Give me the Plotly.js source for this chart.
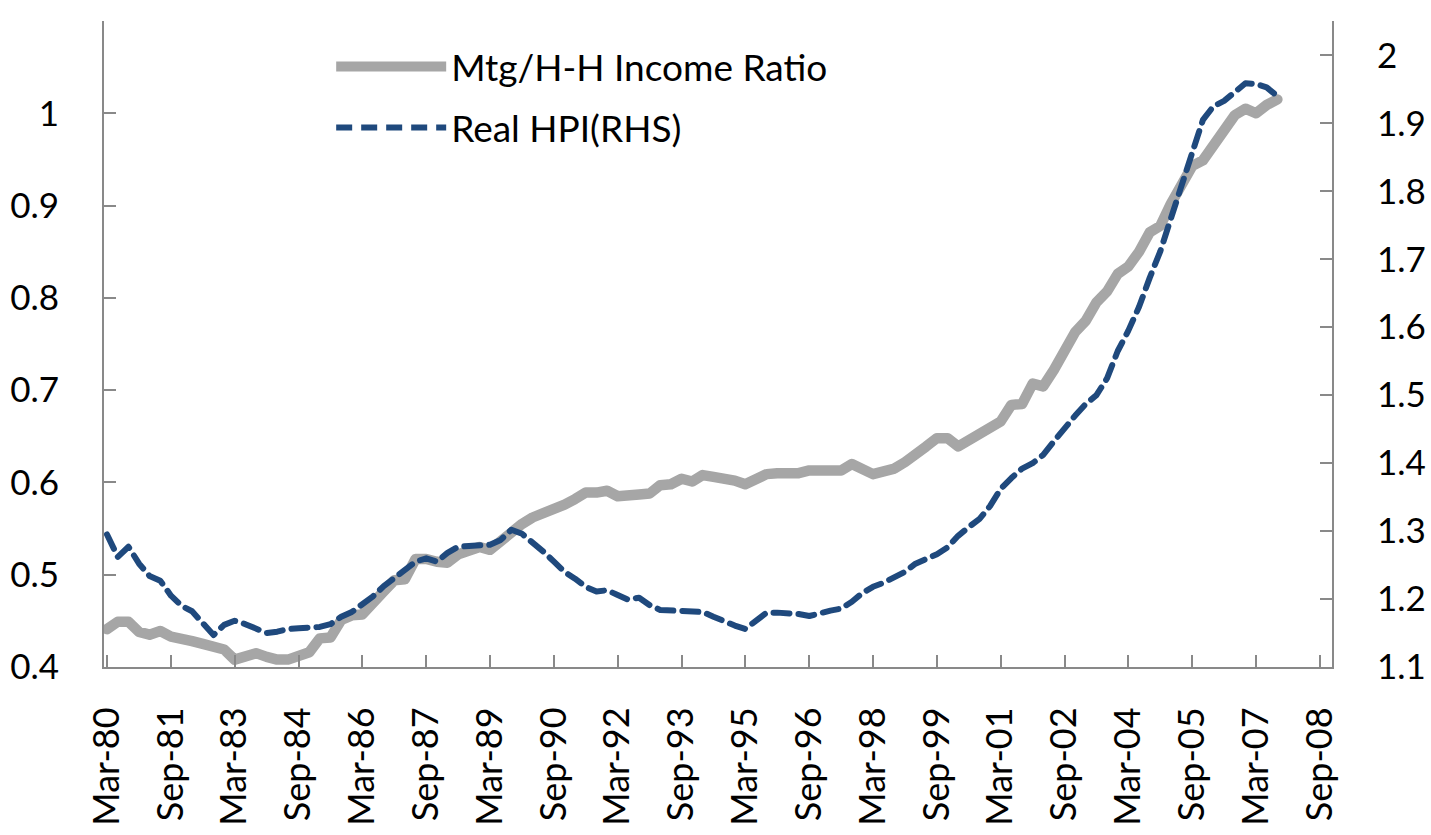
<!DOCTYPE html>
<html>
<head>
<meta charset="utf-8">
<script src="https://cdn.plot.ly/plotly-3.0.1.min.js"></script>
<style>
  html, body { margin: 0; padding: 0; background: #ffffff; }
  #chart { width: 1431px; height: 835px; }
  .subplot.xy path.js-line { stroke-linecap: round; stroke-linejoin: round; }
</style>
</head>
<body>
<div id="chart"></div>
<script>
// Quarterly observations, Mar-80 .. Sep-07
const quarters = [
  "1980-03","1980-06","1980-09","1980-12","1981-03","1981-06","1981-09","1981-12",
  "1982-03","1982-06","1982-09","1982-12","1983-03","1983-06","1983-09","1983-12",
  "1984-03","1984-06","1984-09","1984-12","1985-03","1985-06","1985-09","1985-12",
  "1986-03","1986-06","1986-09","1986-12","1987-03","1987-06","1987-09","1987-12",
  "1988-03","1988-06","1988-09","1988-12","1989-03","1989-06","1989-09","1989-12",
  "1990-03","1990-06","1990-09","1990-12","1991-03","1991-06","1991-09","1991-12",
  "1992-03","1992-06","1992-09","1992-12","1993-03","1993-06","1993-09","1993-12",
  "1994-03","1994-06","1994-09","1994-12","1995-03","1995-06","1995-09","1995-12",
  "1996-03","1996-06","1996-09","1996-12","1997-03","1997-06","1997-09","1997-12",
  "1998-03","1998-06","1998-09","1998-12","1999-03","1999-06","1999-09","1999-12",
  "2000-03","2000-06","2000-09","2000-12","2001-03","2001-06","2001-09","2001-12",
  "2002-03","2002-06","2002-09","2002-12","2003-03","2003-06","2003-09","2003-12",
  "2004-03","2004-06","2004-09","2004-12","2005-03","2005-06","2005-09","2005-12",
  "2006-03","2006-06","2006-09","2006-12","2007-03","2007-06","2007-09"
];

// Mortgage debt / household income ratio (left axis)
const mtgIncomeRatio = [
  0.441,0.449,0.449,0.438,0.435,0.439,0.433,0.429,
  0.428,0.425,0.421,0.419,0.408,0.411,0.415,0.411,
  0.408,0.408,0.413,0.416,0.431,0.432,0.451,0.456,
  0.457,0.468,0.482,0.494,0.495,0.517,0.517,0.514,
  0.513,0.522,0.527,0.530,0.527,0.536,0.548,0.555,
  0.562,0.566,0.570,0.576,0.582,0.589,0.589,0.591,
  0.585,0.585,0.587,0.588,0.597,0.598,0.604,0.601,
  0.608,0.606,0.605,0.602,0.598,0.605,0.609,0.610,
  0.610,0.610,0.613,0.613,0.613,0.613,0.620,0.615,
  0.609,0.612,0.615,0.622,0.629,0.639,0.648,0.648,
  0.639,0.645,0.652,0.658,0.666,0.684,0.685,0.707,
  0.704,0.722,0.742,0.763,0.775,0.795,0.807,0.826,
  0.834,0.850,0.871,0.878,0.902,0.920,0.943,0.949,
  0.965,0.982,0.998,1.005,1.000,1.009,1.015
];

// Real house price index (right axis)
const realHPI = [
  1.295,1.262,1.277,1.252,1.234,1.227,1.205,1.190,
  1.182,1.165,1.147,1.162,1.168,1.163,1.156,1.150,
  1.152,1.156,1.157,1.157,1.159,1.163,1.174,1.181,
  1.192,1.204,1.219,1.231,1.242,1.255,1.260,1.255,
  1.268,1.277,1.278,1.278,1.280,1.287,1.302,1.296,
  1.284,1.270,1.255,1.240,1.230,1.218,1.211,1.213,
  1.206,1.199,1.202,1.191,1.184,1.183,1.183,1.183,
  1.181,1.174,1.167,1.161,1.156,1.168,1.180,1.180,
  1.180,1.178,1.175,1.180,1.183,1.186,1.196,1.209,
  1.218,1.224,1.233,1.240,1.252,1.258,1.266,1.276,
  1.293,1.306,1.318,1.337,1.362,1.378,1.392,1.400,
  1.412,1.432,1.452,1.470,1.487,1.500,1.525,1.565,
  1.595,1.630,1.673,1.712,1.760,1.808,1.855,1.905,
  1.925,1.933,1.946,1.959,1.958,1.953,1.940
];

const seriesNames = ["Mtg/H-H Income Ratio", "Real HPI(RHS)"];

const axisGrey = "#898989";
const fontFamily = "Lato, 'Open Sans', sans-serif";

const traces = [
  {
    x: quarters, y: mtgIncomeRatio, name: seriesNames[0],
    type: "scatter", mode: "lines", yaxis: "y", legendgroup: "a",
    line: { color: "#a6a6a6", width: 10.5 }
  },
  {
    x: quarters, y: realHPI, name: seriesNames[1],
    type: "scatter", mode: "lines", yaxis: "y2", legendgroup: "b",
    line: { color: "#1f497d", width: 6, dash: "16px,9px" }
  }
];

const layout = {
  width: 1431, height: 835,
  margin: { l: 104, r: 99, t: 21, b: 168 },
  paper_bgcolor: "#ffffff", plot_bgcolor: "#ffffff",
  font: { family: fontFamily, color: "#000000", size: 35 },
  showlegend: true,
  legend: {
    x: 0.185, y: 0.977, xanchor: "left", yanchor: "top",
    bgcolor: "rgba(0,0,0,0)", font: { size: 37, family: fontFamily },
    itemwidth: 110, tracegroupgap: 10
  },
  xaxis: {
    type: "date",
    range: ["1980-02-04", "2008-12-13"],
    tick0: "1980-03-01", dtick: "M18", tickformat: "%b-%y",
    tickangle: -90,
    showgrid: false, zeroline: false,
    showline: true, linecolor: axisGrey, linewidth: 2,
    ticks: "inside", ticklen: 12, tickwidth: 2, tickcolor: axisGrey,
    ticklabelstandoff: 24,
    tickfont: { size: 36, family: fontFamily }
  },
  yaxis: {
    range: [0.4, 1.1], dtick: 0.1, tick0: 0.4,
    showgrid: false, zeroline: false,
    showline: true, linecolor: axisGrey, linewidth: 2,
    ticks: "inside", ticklen: 12, tickwidth: 2, tickcolor: axisGrey,
    ticklabelstandoff: 36,
    tickfont: { size: 35, family: fontFamily }
  },
  yaxis2: {
    overlaying: "y", side: "right",
    range: [1.1, 2.0506], dtick: 0.1, tick0: 1.1,
    showgrid: false, zeroline: false,
    showline: true, linecolor: axisGrey, linewidth: 2,
    ticks: "inside", ticklen: 12, tickwidth: 2, tickcolor: axisGrey,
    ticklabelstandoff: 36,
    tickfont: { size: 35, family: fontFamily }
  }
};

Plotly.newPlot("chart", traces, layout, { staticPlot: true, displayModeBar: false });
</script>
</body>
</html>
